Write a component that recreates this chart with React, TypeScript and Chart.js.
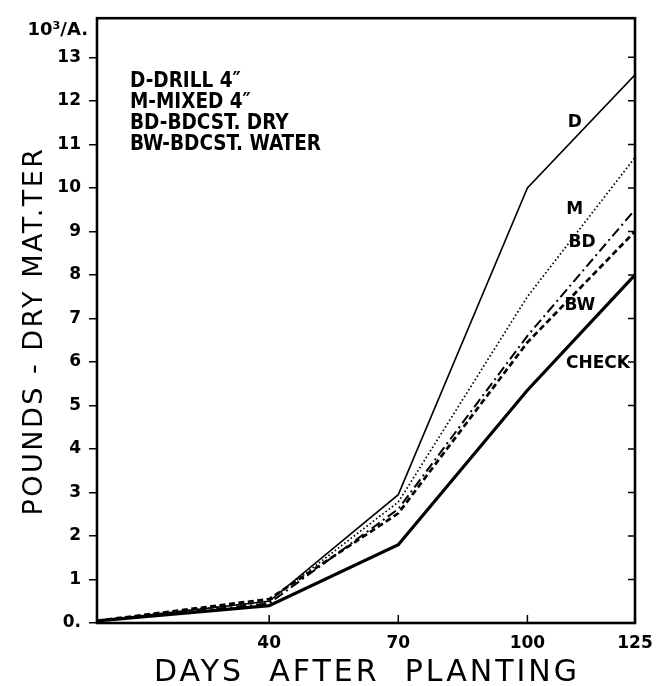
import React, { useEffect, useRef } from 'react';
import { Chart, registerables } from 'chart.js';

Chart.register(...registerables);

// ---- data ----
const days = [0, 40, 70, 100, 125];
const drill = [0.05, 0.5, 2.95, 10.0, 12.6];
const mixed = [0.05, 0.5, 2.78, 7.5, 10.7];
const bdcstDry = [0.05, 0.45, 2.62, 6.6, 9.5];
const bdcstWater = [0.05, 0.55, 2.52, 6.45, 9.0];
const check = [0.05, 0.4, 1.8, 5.35, 8.0];

const xTickValues = [40, 70, 100, 125];
const yTickValues = [0, 1, 2, 3, 4, 5, 6, 7, 8, 9, 10, 11, 12, 13];
const legendLines = ['D-DRILL 4″', 'M-MIXED 4″', 'BD-BDCST. DRY', 'BW-BDCST. WATER'];
const seriesNames = ['D', 'M', 'BD', 'BW', 'CHECK'];
const xTitle = 'DAYS  AFTER  PLANTING';
const yTitle = 'POUNDS - DRY MAT.TER';
const yUnit = '10³/A.';

const FONT = "'DejaVu Sans', 'Liberation Sans', sans-serif";
const FONT_C = "'DejaVu Sans Condensed', 'DejaVu Sans', sans-serif";

// label anchor points in data coordinates [day, value]
const seriesLabelAt: [number, number][] = [
  [111, 11.5],
  [111, 9.5],
  [112.7, 8.75],
  [112.2, 7.3],
  [116.4, 5.96],
];

const annotations = {
  id: 'annotations',
  afterDraw(chart: any) {
    const { ctx, chartArea: a, scales } = chart;
    const xs = scales.x;
    const ys = scales.y;
    ctx.save();
    ctx.strokeStyle = '#000';
    ctx.fillStyle = '#000';
    // frame
    ctx.lineWidth = 2.6;
    ctx.strokeRect(a.left, a.top, a.right - a.left, a.bottom - a.top);
    // inward ticks on bottom axis
    ctx.lineWidth = 1.5;
    ctx.beginPath();
    for (const v of xTickValues.slice(0, -1)) {
      const px = xs.getPixelForValue(v);
      ctx.moveTo(px, a.bottom);
      ctx.lineTo(px, a.bottom - 8);
    }
    // inward ticks on right axis
    for (const v of yTickValues.slice(1)) {
      const py = ys.getPixelForValue(v);
      ctx.moveTo(a.right, py);
      ctx.lineTo(a.right - 7, py);
    }
    ctx.stroke();

    // unit label
    ctx.font = `bold 18px ${FONT}`;
    ctx.textAlign = 'right';
    ctx.textBaseline = 'alphabetic';
    ctx.fillText(yUnit, a.left - 9, a.top + 17);

    // legend text block
    ctx.font = `bold 20.5px ${FONT_C}`;
    ctx.textAlign = 'left';
    ctx.textBaseline = 'middle';
    legendLines.forEach((t, i) => {
      ctx.fillText(t, a.left + 33, 82 + i * 21);
    });

    // series labels
    ctx.font = `bold 17px ${FONT}`;
    ctx.textAlign = 'center';
    seriesNames.forEach((t, i) => {
      const [dx, dy] = seriesLabelAt[i];
      ctx.fillText(t, xs.getPixelForValue(dx), ys.getPixelForValue(dy));
    });

    // axis titles
    ctx.font = `30px ${FONT}`;
    (ctx as any).letterSpacing = '3px';
    ctx.textAlign = 'center';
    ctx.textBaseline = 'middle';
    ctx.fillText(xTitle, (a.left + a.right) / 2 + 1, 673);

    ctx.font = `27px ${FONT}`;
    (ctx as any).letterSpacing = '2.5px';
    ctx.translate(35, 331);
    ctx.rotate(-Math.PI / 2);
    ctx.fillText(yTitle, 0, 0);
    ctx.restore();
  },
};

export default function App() {
  const ref = useRef<HTMLCanvasElement>(null);
  useEffect(() => {
    if (!ref.current) return;
    const tickFont = { family: FONT, size: 17, weight: 'bold' as const };
    const mk = (label: string, data: number[], width: number, dash: number[]) => ({
      label,
      data: days.map((d, i) => ({ x: d, y: data[i] })),
      borderColor: '#000',
      backgroundColor: '#000',
      borderWidth: width,
      borderDash: dash,
      pointRadius: 0,
      tension: 0,
      fill: false,
    });
    const chart = new Chart(ref.current, {
      type: 'line',
      data: {
        datasets: [
          mk('D', drill, 1.6, []),
          mk('M', mixed, 1.7, [1.6, 2.4]),
          mk('BD', bdcstDry, 2, [10, 4, 2, 4]),
          mk('BW', bdcstWater, 2.7, [6, 3.5]),
          mk('CHECK', check, 3.2, []),
        ],
      },
      options: {
        responsive: false,
        animation: false,
        layout: { padding: { top: 15, right: 35, left: 0, bottom: 0 } },
        plugins: { legend: { display: false }, tooltip: { enabled: false } },
        scales: {
          x: {
            type: 'linear',
            min: 0,
            max: 125,
            afterBuildTicks: (s: any) => {
              s.ticks = xTickValues.map((v) => ({ value: v }));
            },
            afterFit: (s: any) => {
              s.height = 63;
            },
            grid: { display: false, drawTicks: false },
            border: { display: false },
            ticks: {
              font: tickFont,
              color: '#000',
              padding: 10,
              autoSkip: false,
              maxRotation: 0,
            },
          },
          y: {
            type: 'linear',
            min: 0,
            max: 13.9,
            afterBuildTicks: (s: any) => {
              s.ticks = yTickValues.map((v) => ({ value: v }));
            },
            afterFit: (s: any) => {
              s.width = 97;
            },
            grid: {
              display: true,
              drawOnChartArea: false,
              drawTicks: true,
              tickLength: 8,
              color: '#000',
              lineWidth: 1.5,
            },
            border: { display: false },
            ticks: {
              font: tickFont,
              color: '#000',
              padding: 8,
              autoSkip: false,
              callback: (v: any) => (Number(v) === 0 ? '0.' : String(v)),
            },
          },
        },
      },
      plugins: [annotations],
    });
    return () => chart.destroy();
  }, []);
  return (
    <div style={{ position: 'fixed', left: 0, top: 0, width: 670, height: 686, background: '#fff' }}>
      <canvas ref={ref} width={670} height={686} style={{ display: 'block' }} />
    </div>
  );
}
